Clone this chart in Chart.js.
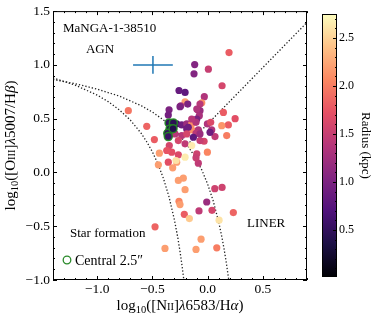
<!DOCTYPE html>
<html>
<head>
<meta charset="utf-8">
<script src="https://cdn.jsdelivr.net/npm/chart.js@4.4.0/dist/chart.umd.min.js"></script>
<style>
html, body { margin: 0; padding: 0; background: #fff; }
</style>
</head>
<body>
<canvas id="bpt" width="374" height="321"></canvas>
<script>
// spaxels: log10([NII]/Ha), log10([OIII]/Hb) and galactocentric radius (kpc)
var nii = [0.194, -0.117, -0.123, 0.007, 0.131, -0.259, -0.204, -0.030, -0.204, -0.180,
    -0.243, -0.053, -0.069, -0.349, -0.089, -0.356, 0.249, 0.188, 0.128, 0.173,
    0.067, -0.002, -0.069, -0.075, -0.098, 0.143, 0.028, 0.037, 0.022, -0.032,
    -0.002, -0.718, -0.551, -0.482, -0.280, -0.234, -0.189, -0.144, -0.105, -0.189,
    -0.144, -0.084, -0.295, -0.234, -0.105, -0.069, -0.265, -0.204, -0.144, -0.347,
    -0.325, -0.370, -0.437, -0.265, -0.204, -0.098, -0.356, -0.280, -0.446, -0.084,
    -0.286, -0.316, -0.105, -0.250, -0.098, -0.144, -0.069, -0.175, -0.189, -0.129,
    -0.265, -0.220, -0.204, -0.259, -0.250, -0.211, -0.165, -0.078, -0.008, 0.040,
    0.065, 0.131, 0.233, 0.104, -0.476, -0.059, -0.386, -0.105, 0.083];
var oiii = [1.114, 1.003, 0.917, 0.960, 0.806, 0.762, 0.744, 0.704, 0.657, 0.636,
    0.620, 0.648, 0.636, 0.583, 0.583, 0.534, 0.500, 0.442, 0.435, 0.343,
    0.333, 0.451, 0.574, 0.528, 0.497, 0.558, 0.466, 0.395, 0.373, 0.290,
    0.188, 0.574, 0.429, 0.306, 0.451, 0.442, 0.451, 0.451, 0.466, 0.405,
    0.395, 0.395, 0.358, 0.343, 0.364, 0.296, 0.296, 0.266, 0.250, 0.250,
    0.188, 0.204, 0.179, 0.164, 0.142, 0.173, 0.095, 0.095, 0.071, 0.086,
    0.111, 0.043, 0.136, 0.611, 0.590, 0.497, 0.358, 0.419, 0.358, 0.327,
    -0.074, -0.053, -0.160, -0.269, -0.299, -0.389, -0.429, -0.358, -0.275, -0.352,
    -0.151, -0.139, -0.373, -0.444, -0.506, -0.620, -0.706, -0.716, -0.701];
var radius = [1.8, 1.05, 1.05, 1.5, 1.6, 0.85, 0.8, 1.35, 2.2, 1.0,
    1.3, 2.1, 1.4, 1.0, 1.3, 0.95, 1.7, 1.8, 2.15, 2.0,
    1.45, 1.35, 1.2, 1.3, 1.0, 1.8, 1.65, 1.35, 0.9, 1.6,
    2.05, 1.95, 1.85, 1.8, 0.6, 0.9, 1.2, 2.1, 1.35, 0.9,
    2.1, 1.35, 1.4, 1.4, 1.4, 1.5, 1.6, 1.45, 2.65, 1.6,
    1.7, 1.75, 2.2, 1.65, 2.65, 1.55, 1.7, 2.2, 2.2, 1.45,
    2.6, 2.2, 1.5, 1.0, 1.35, 1.4, 1.2, 0.9, 1.6, 0.8,
    2.2, 2.2, 2.2, 2.05, 2.2, 1.8, 2.45, 1.45, 1.2, 1.6,
    1.55, 1.55, 1.85, 2.6, 1.85, 2.2, 2.2, 2.2, 2.0];

// spaxels inside the central 2.5" aperture
var centralNii = [-0.349, -0.310, -0.340, -0.361, -0.356, -0.313];
var centralOiii = [0.460, 0.460, 0.405, 0.364, 0.333, 0.407];
var centralRadius = [0.5, 0.45, 0.4, 0.5, 0.55, 0.4];

// demarcation lines (Kauffmann 03, Kewley 01, Seyfert/LINER)
var kauffX = [-1.4, -1.2, -1.0, -0.9, -0.8, -0.7, -0.6, -0.55, -0.5, -0.45, -0.4, -0.35, -0.3, -0.27, -0.25, -0.23, -0.215];
var kauffY = [0.879, 0.812, 0.719, 0.658, 0.582, 0.487, 0.362, 0.283, 0.191, 0.080, -0.056, -0.225, -0.443, -0.606, -0.733, -0.879, -1.002];
var kewleyX = [-1.4, -1.2, -1.0, -0.8, -0.6, -0.5, -0.4, -0.3, -0.2, -0.1, -0.05, 0.0, 0.05, 0.1, 0.13, 0.15, 0.17, 0.1915];
var kewleyY = [0.864, 0.825, 0.775, 0.710, 0.620, 0.561, 0.489, 0.398, 0.280, 0.120, 0.017, -0.108, -0.262, -0.459, -0.604, -0.716, -0.843, -1.0];
var linerX = [-0.184, 0.9];
var linerY = [0.257, 1.395];

// typical error bar
var errCenter = [-0.495, 1.0];
var errSize = [0.18, 0.083];

var xTicks = [-1.0, -0.5, 0.0, 0.5];
var yTicks = [-1.0, -0.5, 0.0, 0.5, 1.0, 1.5];
var cbTicks = [0.5, 1.0, 1.5, 2.0, 2.5];
var cbMin = 0.01, cbMax = 2.75;

var serif = '"Liberation Serif", "DejaVu Serif", serif';

// magma colour map
var magmaStops = ['#000004', '#1c1044', '#4f127b', '#812581', '#b5367a', '#e55064', '#fb8761', '#fec287', '#fcfdbf'];
function hexRgb(h) {
    return [parseInt(h.substr(1, 2), 16), parseInt(h.substr(3, 2), 16), parseInt(h.substr(5, 2), 16)];
}
function magma(v) {
    var t = (v - cbMin) / (cbMax - cbMin);
    t = Math.max(0, Math.min(1, t));
    var f = t * (magmaStops.length - 1);
    var i = Math.min(Math.floor(f), magmaStops.length - 2);
    var a = hexRgb(magmaStops[i]), b = hexRgb(magmaStops[i + 1]);
    var k = f - i;
    return 'rgb(' + Math.round(a[0] + (b[0] - a[0]) * k) + ',' + Math.round(a[1] + (b[1] - a[1]) * k) + ',' + Math.round(a[2] + (b[2] - a[2]) * k) + ')';
}

function pts(xs, ys) {
    return xs.map(function (x, i) { return { x: x, y: ys[i] }; });
}

function fmt(v) {
    return (v < 0 ? '\u2212' : '') + Math.abs(v).toFixed(1);
}

// draw text made of pieces with their own size / offset / style
function richText(ctx, segs, x, y, rot, align) {
    ctx.save();
    ctx.translate(x, y);
    ctx.rotate(rot);
    var total = 0;
    segs.forEach(function (s) {
        ctx.font = (s.it ? 'italic ' : '') + s.size + 'px ' + serif;
        s.w = ctx.measureText(s.t).width;
        total += s.w;
    });
    var cx = align === 'center' ? -total / 2 : 0;
    ctx.textBaseline = 'alphabetic';
    ctx.textAlign = 'left';
    ctx.fillStyle = '#000';
    segs.forEach(function (s) {
        ctx.font = (s.it ? 'italic ' : '') + s.size + 'px ' + serif;
        ctx.fillText(s.t, cx, s.dy || 0);
        cx += s.w;
    });
    ctx.restore();
}

var decor = {
    id: 'decor',
    afterDraw: function (chart) {
        var ctx = chart.ctx;
        var a = chart.chartArea;
        var xs = chart.scales.x, ys = chart.scales.y;
        ctx.save();
        ctx.strokeStyle = '#000';
        ctx.lineWidth = 1;
        ctx.strokeRect(a.left + 0.5, a.top + 0.5, a.right - a.left - 1, a.bottom - a.top - 1);

        // inward ticks on all sides
        ctx.beginPath();
        for (var i = -14; i <= 9; i++) {
            var v = i / 10;
            var px = Math.round(xs.getPixelForValue(v)) + 0.5;
            var len = (i % 5 === 0) ? 4 : 2;
            ctx.moveTo(px, a.bottom); ctx.lineTo(px, a.bottom - len);
            ctx.moveTo(px, a.top); ctx.lineTo(px, a.top + len);
        }
        for (var j = -10; j <= 15; j++) {
            var py = Math.round(ys.getPixelForValue(j / 10)) + 0.5;
            var l2 = (j % 5 === 0) ? 4 : 2;
            ctx.moveTo(a.left, py); ctx.lineTo(a.left + l2, py);
            ctx.moveTo(a.right, py); ctx.lineTo(a.right - l2, py);
        }
        ctx.stroke();

        // annotations
        ctx.fillStyle = '#000';
        ctx.font = '13px ' + serif;
        ctx.textBaseline = 'alphabetic';
        ctx.textAlign = 'left';
        ctx.fillText('MaNGA-1-38510', 63, 32);
        ctx.textAlign = 'center';
        ctx.fillText('AGN', 100, 53);
        ctx.textAlign = 'left';
        ctx.fillText('Star formation', 70, 237);
        ctx.fillText('LINER', 247, 227);

        // legend
        ctx.beginPath();
        ctx.arc(67, 260, 3.8, 0, Math.PI * 2);
        ctx.strokeStyle = '#2a8a2a';
        ctx.lineWidth = 1.3;
        ctx.stroke();
        ctx.font = '14px ' + serif;
        ctx.fillText('Central 2.5\u2033', 75, 265);

        // axis titles
        var big = 15, small = 10.5;
        richText(ctx, [
            { t: 'log', size: big }, { t: '10', size: small, dy: 3 },
            { t: '([N', size: big }, { t: 'II', size: small }, { t: ']', size: big },
            { t: '\u03bb', size: big, it: true }, { t: '6583/H', size: big },
            { t: '\u03b1', size: big, it: true }, { t: ')', size: big }
        ], (a.left + a.right) / 2, 310, 0, 'center');
        richText(ctx, [
            { t: 'log', size: big }, { t: '10', size: small, dy: 3 },
            { t: '([O', size: big }, { t: 'III', size: small }, { t: ']', size: big },
            { t: '\u03bb', size: big, it: true }, { t: '5007/H', size: big },
            { t: '\u03b2', size: big, it: true }, { t: ')', size: big }
        ], 15, (a.top + a.bottom) / 2, -Math.PI / 2, 'center');

        // colour bar
        var cbL = 322, cbR = 337, cbT = 14, cbB = 277;
        var grad = ctx.createLinearGradient(0, cbB, 0, cbT);
        magmaStops.forEach(function (c, k) { grad.addColorStop(k / (magmaStops.length - 1), c); });
        ctx.fillStyle = grad;
        ctx.fillRect(cbL, cbT, cbR - cbL, cbB - cbT);
        ctx.strokeStyle = '#000';
        ctx.lineWidth = 1;
        ctx.strokeRect(cbL + 0.5, cbT + 0.5, cbR - cbL - 1, cbB - cbT - 1);
        function cbPix(v) { return cbB - (v - cbMin) / (cbMax - cbMin) * (cbB - cbT); }
        ctx.beginPath();
        for (var m = 1; m <= 27; m++) {
            var yy = Math.round(cbPix(m / 10)) + 0.5;
            var ml = (m % 5 === 0) ? 4 : 2;
            ctx.moveTo(cbR, yy); ctx.lineTo(cbR - ml, yy);
        }
        ctx.stroke();
        ctx.fillStyle = '#000';
        ctx.font = '12px ' + serif;
        ctx.textAlign = 'left';
        ctx.textBaseline = 'middle';
        cbTicks.forEach(function (v) { ctx.fillText(v.toFixed(1), 339, cbPix(v)); });
        richText(ctx, [{ t: 'Radius (kpc)', size: 13 }], 362, (cbT + cbB) / 2, Math.PI / 2, 'center');
        ctx.restore();
    }
};

var lineStyle = { showLine: true, pointRadius: 0, borderColor: '#222', borderWidth: 1.3, borderDash: [1.3, 2], fill: false, order: 3 };

new Chart(document.getElementById('bpt').getContext('2d'), {
    type: 'scatter',
    data: {
        datasets: [
            {
                label: 'Central 2.5\u2033',
                data: pts(centralNii, centralOiii),
                backgroundColor: centralRadius.map(magma),
                borderColor: 'rgba(34,139,34,0.9)',
                borderWidth: 1.5,
                pointRadius: 4,
                order: 0
            },
            {
                label: 'spaxels',
                data: pts(nii, oiii),
                backgroundColor: radius.map(magma),
                borderWidth: 0,
                pointRadius: 3.6,
                order: 1
            },
            Object.assign({}, lineStyle, {
                label: 'err x',
                data: [{ x: errCenter[0] - errSize[0], y: errCenter[1] }, { x: errCenter[0] + errSize[0], y: errCenter[1] }],
                borderColor: '#1f77b4', borderDash: [], borderWidth: 1.5, order: 2
            }),
            Object.assign({}, lineStyle, {
                label: 'err y',
                data: [{ x: errCenter[0], y: errCenter[1] - errSize[1] }, { x: errCenter[0], y: errCenter[1] + errSize[1] }],
                borderColor: '#1f77b4', borderDash: [], borderWidth: 1.5, order: 2
            }),
            Object.assign({}, lineStyle, { label: 'Kauffmann', data: pts(kauffX, kauffY) }),
            Object.assign({}, lineStyle, { label: 'Kewley', data: pts(kewleyX, kewleyY) }),
            Object.assign({}, lineStyle, { label: 'LINER', data: pts(linerX, linerY) })
        ]
    },
    options: {
        responsive: false,
        animation: false,
        devicePixelRatio: 1,
        layout: { padding: { left: 0, right: 67, top: 10, bottom: 0 } },
        plugins: { legend: { display: false }, tooltip: { enabled: false } },
        scales: {
            x: {
                type: 'linear', min: -1.4, max: 0.9,
                grid: { display: false, drawTicks: false },
                border: { display: false },
                afterBuildTicks: function (s) { s.ticks = xTicks.map(function (v) { return { value: v }; }); },
                afterFit: function (s) { s.height = 41; },
                ticks: {
                    padding: 1, color: '#000', maxRotation: 0, autoSkip: false,
                    font: { family: serif, size: 13.5 }, callback: fmt
                }
            },
            y: {
                type: 'linear', min: -1.0, max: 1.5,
                grid: { display: false, drawTicks: false },
                border: { display: false },
                afterBuildTicks: function (s) { s.ticks = yTicks.map(function (v) { return { value: v }; }); },
                afterFit: function (s) { s.width = 53; },
                ticks: {
                    padding: 3, color: '#000', autoSkip: false,
                    font: { family: serif, size: 13.5 }, callback: fmt
                }
            }
        }
    },
    plugins: [decor]
});
</script>
</body>
</html>
